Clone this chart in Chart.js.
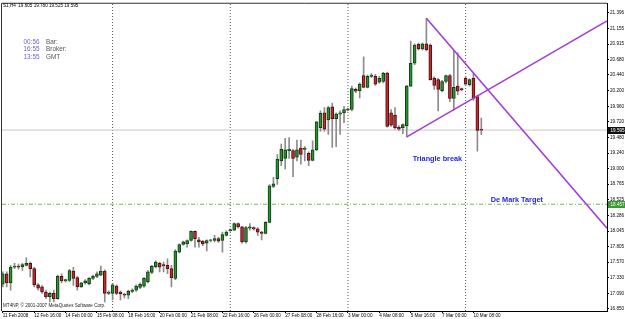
<!DOCTYPE html>
<html>
<head>
<meta charset="utf-8">
<script src="https://cdn.jsdelivr.net/npm/chart.js@4"></script>
<style>
html,body{margin:0;padding:0;background:#fff;}
#wrap{width:625px;height:319px;}
</style>
</head>
<body>
<div id="wrap"><canvas id="c" width="625" height="319"></canvas></div>
<script>
// ---- data (S1, H4) ----
const opens  = [17.23,17.39,17.25,17.49,17.51,17.50,17.52,17.55,17.47,17.22,17.19,17.11,17.04,17.09,17.01,17.35,17.28,17.29,17.43,17.33,17.19,17.25,17.24,17.32,17.35,17.37,17.43,17.09,17.09,17.20,17.11,17.08,17.06,17.12,17.14,17.18,17.20,17.27,17.41,17.50,17.55,17.53,17.52,17.47,17.32,17.72,17.84,17.85,17.90,18.04,17.91,17.89,17.86,17.90,17.90,17.93,17.90,17.98,18.05,18.06,18.16,18.11,17.88,18.09,18.10,18.08,18.03,18.01,18.18,18.73,18.85,19.12,19.16,19.28,19.28,19.18,19.32,19.30,19.24,19.13,19.29,19.63,19.86,19.75,19.95,19.77,19.84,19.86,19.90,19.91,20.22,20.20,20.43,20.25,20.42,20.42,20.33,20.34,20.47,19.86,19.82,19.64,19.63,19.66,20.27,20.62,20.91,20.84,20.92,20.90,20.39,20.37,20.20,20.34,20.43,20.08,20.27,20.23,20.39,20.29,20.39,20.11,19.605];
const highs  = [17.42,17.42,17.52,17.55,17.54,17.55,17.64,17.57,17.49,17.24,17.21,17.14,17.11,17.14,17.37,17.39,17.31,17.46,17.49,17.35,17.26,17.30,17.33,17.37,17.42,17.51,17.45,17.13,17.24,17.22,17.13,17.09,17.14,17.16,17.22,17.25,17.33,17.44,17.52,17.59,17.57,17.57,17.62,17.52,17.76,17.85,17.89,17.91,18.05,18.05,17.95,17.90,17.91,17.92,17.98,17.95,18.03,18.05,18.08,18.17,18.17,18.12,18.12,18.16,18.11,18.10,18.04,18.19,18.76,18.87,19.22,19.38,19.47,19.48,19.30,19.44,19.44,19.34,19.26,19.43,19.73,19.89,19.94,19.96,20.01,19.86,19.89,19.96,19.93,20.27,20.24,20.32,20.72,20.44,20.46,20.45,20.42,20.48,20.48,19.91,19.94,19.66,19.69,20.28,20.96,20.92,20.93,20.93,21.31,20.92,20.41,20.39,20.36,20.44,20.45,20.81,20.78,20.24,20.42,20.38,20.47,20.13,19.780];
const lows   = [17.19,17.19,17.14,17.47,17.46,17.44,17.51,17.34,17.19,17.14,17.09,17.01,16.96,16.96,17.00,17.25,17.26,17.27,17.21,17.14,17.18,17.23,17.22,17.30,17.33,17.36,16.96,17.07,16.99,17.07,16.99,17.02,17.01,17.10,17.12,17.16,17.18,17.25,17.39,17.48,17.42,17.42,17.39,17.19,17.30,17.71,17.83,17.80,17.89,17.80,17.80,17.82,17.74,17.88,17.88,17.87,17.72,17.97,18.04,18.05,18.09,17.86,17.86,18.06,18.06,17.98,17.91,18.00,18.17,18.71,18.76,19.05,19.00,19.16,18.88,19.12,19.07,19.12,19.05,19.12,19.28,19.58,19.58,19.53,19.33,19.34,19.53,19.71,19.89,19.89,20.17,20.09,20.24,20.24,20.40,20.28,20.31,20.32,19.64,19.65,19.61,19.59,19.54,19.49,20.26,20.60,20.82,20.82,20.81,20.36,20.22,19.89,20.18,20.32,20.03,19.90,20.14,20.20,20.28,20.27,20.05,19.27,19.525];
const closes = [17.39,17.25,17.49,17.51,17.49,17.53,17.55,17.47,17.22,17.17,17.11,17.04,17.09,17.01,17.35,17.28,17.30,17.44,17.32,17.19,17.25,17.28,17.32,17.35,17.39,17.43,17.09,17.11,17.22,17.09,17.08,17.06,17.12,17.14,17.20,17.23,17.32,17.42,17.51,17.57,17.49,17.51,17.47,17.33,17.74,17.84,17.88,17.90,18.04,17.93,17.88,17.85,17.90,17.91,17.93,17.89,17.99,18.03,18.07,18.16,18.11,17.88,18.10,18.11,18.08,18.03,18.01,18.18,18.74,18.77,19.15,19.30,19.29,19.30,19.16,19.29,19.22,19.32,19.13,19.29,19.72,19.85,19.61,19.94,19.77,19.84,19.86,19.91,19.92,20.23,20.19,20.30,20.25,20.42,20.44,20.30,20.39,20.47,19.65,19.67,19.63,19.61,19.68,20.27,20.62,20.90,20.84,20.92,20.83,20.37,20.28,20.22,20.34,20.43,20.08,20.25,20.19,20.21,20.30,20.37,20.08,19.59,19.595];

const xTickBars   = [0,8,16,24,32,40,48,56,64,72,80,88,96,104,112,120];
const xTickLabels = ["11 Feb 2008","12 Feb 16:00","14 Feb 00:00","15 Feb 08:00","18 Feb 16:00","20 Feb 00:00","21 Feb 08:00","22 Feb 16:00","26 Feb 00:00","27 Feb 08:00","28 Feb 16:00","3 Mar 00:00","4 Mar 08:00","5 Mar 16:00","7 Mar 00:00","10 Mar 08:00"];
const yTickLabels = ["21.396","21.155","20.915","20.680","20.440","20.200","19.960","19.720","19.480","19.240","19.000","18.765","18.525","18.286","18.045","17.805","17.570","17.330","17.090","16.850"];
const yTickValues = yTickLabels.map(Number);

const weekSeparators = [28,58,88,118];
const bidPrice = 19.595;
const deMarkTarget = 18.457;
// trend lines: [bar, price] start, [bar, price] end (end at right edge)
const lowerLine = [[103,19.49],[154.05,21.27]];
const upperLine = [[108,21.31],[154.05,18.09]];
const annotations = [
  {text:"Triangle break", bar:104.5, price:19.153},
  {text:"De Mark Target", bar:124.4, price:18.528}
];
const headerText = "S1,H4  19.605 19.780 19.525 19.595";
const clockTimes = ["00:56","16:55","13:55"];
const clockNames = ["Bar:","Broker:","GMT"];
const copyrightText = "MT4NP, \u00a9 2001-2007 MetaQuotes Software Corp.";

const X_MIN = -0.2, X_MAX = 154.05;
const Y_MIN = 16.819, Y_MAX = 21.533;

// ---- build datasets ----
const n = opens.length;
const wickData = [], bodyData = [], bodyFill = [], bodyBorder = [];
for (let i = 0; i < n; i++) {
  wickData.push({x:i, y:[lows[i], highs[i]]});
  bodyData.push({x:i, y:[opens[i], closes[i]]});
  const up = closes[i] >= opens[i];
  bodyFill.push(up ? '#2a922f' : '#c42a2e');
  bodyBorder.push(up ? '#0f3d12' : '#4d0f10');
}

const datasets = [];
weekSeparators.forEach(b => {
  datasets.push({type:'line', data:[{x:b,y:Y_MIN},{x:b,y:Y_MAX}], borderColor:'#555', borderWidth:1, borderDash:[1,2], pointRadius:0, order:20});
});
datasets.push({type:'line', data:[{x:X_MIN,y:bidPrice},{x:X_MAX,y:bidPrice}], borderColor:'#c8c8c8', borderWidth:1, pointRadius:0, order:19});
datasets.push({type:'line', data:[{x:X_MIN,y:deMarkTarget},{x:X_MAX,y:deMarkTarget}], borderColor:'#6cbf4a', borderWidth:1, borderDash:[4,2,1,2], pointRadius:0, order:18});
datasets.push({type:'bar', data:wickData, backgroundColor:'#8c8c8c', barThickness:1, grouped:false, order:6});
datasets.push({type:'bar', data:bodyData, backgroundColor:bodyFill, borderColor:bodyBorder, borderWidth:1, borderSkipped:false, barThickness:3, grouped:false, order:5});
[lowerLine, upperLine].forEach(l => {
  datasets.push({type:'line', data:l.map(p=>({x:p[0],y:p[1]})), borderColor:'#a23fd6', borderWidth:1.6, pointRadius:0, order:1});
});

const FONT = "'Liberation Sans', Arial, sans-serif";

const overlay = {
  id:'overlay',
  afterDraw(chart) {
    const {ctx, chartArea:a, scales:{x, y}} = chart;
    ctx.save();
    // frame left/top
    ctx.strokeStyle = '#333'; ctx.lineWidth = 1;
    ctx.beginPath();
    ctx.moveTo(a.left - 0.5, a.bottom); ctx.lineTo(a.left - 0.5, a.top - 0.5); ctx.lineTo(a.right, a.top - 0.5);
    ctx.stroke();
    // header
    ctx.fillStyle = '#000'; ctx.textBaseline = 'middle'; ctx.textAlign = 'left';
    ctx.font = "4.6px " + FONT;
    ctx.fillText(headerText, 3, 5.5);
    // clocks
    ctx.font = "6.4px " + FONT;
    for (let i = 0; i < clockTimes.length; i++) {
      const yy = 42 + i * 7.7;
      ctx.fillStyle = '#6c62e0'; ctx.fillText(clockTimes[i], 23.5, yy);
      ctx.fillStyle = '#555'; ctx.fillText(clockNames[i], 46, yy);
    }
    // copyright
    ctx.fillStyle = '#222'; ctx.font = "4.6px " + FONT;
    ctx.fillText(copyrightText, 3, 305.5);
    // annotations
    ctx.font = "bold 7.3px " + FONT; ctx.fillStyle = '#2424e6';
    annotations.forEach(an => ctx.fillText(an.text, x.getPixelForValue(an.bar), y.getPixelForValue(an.price)));
    // price boxes on axis
    const box = (val, bg) => {
      const py = Math.round(y.getPixelForValue(val));
      ctx.fillStyle = bg; ctx.fillRect(a.right + 1, py - 3, 17, 7);
      ctx.fillStyle = '#fff'; ctx.font = "4.6px " + FONT;
      ctx.fillText(val.toFixed(3), a.right + 3.5, py + 0.5);
    };
    box(bidPrice, '#111');
    box(deMarkTarget, '#3a9a34');
    ctx.restore();
  }
};

new Chart(document.getElementById('c'), {
  type:'bar',
  data:{datasets},
  options:{
    responsive:false, animation:false, devicePixelRatio:1,
    layout:{padding:{left:2, top:2, right:0, bottom:0}},
    plugins:{legend:{display:false}, tooltip:{enabled:false}},
    scales:{
      x:{
        type:'linear', position:'bottom', min:X_MIN, max:X_MAX, offset:false,
        afterBuildTicks:s => { s.ticks = xTickBars.map(v => ({value:v})); },
        afterFit:s => { s.height = 8; },
        ticks:{autoSkip:false, maxRotation:0, minRotation:0, align:'start', padding:0, color:'#000',
          font:{size:4.6, family:FONT}, callback:(v,i) => xTickLabels[i]},
        grid:{offset:false, drawOnChartArea:false, drawTicks:true, tickLength:2, color:'#000'},
        border:{display:true, color:'#000', width:1}
      },
      y:{
        type:'linear', position:'right', min:Y_MIN, max:Y_MAX, beginAtZero:false,
        afterBuildTicks:s => { s.ticks = yTickValues.map(v => ({value:v})); },
        afterFit:s => { s.width = 18; },
        ticks:{autoSkip:false, padding:1, color:'#000', font:{size:4.6, family:FONT}, callback:(v,i) => yTickLabels[i]},
        grid:{drawOnChartArea:false, drawTicks:true, tickLength:2, color:'#000'},
        border:{display:true, color:'#000', width:1}
      }
    }
  },
  plugins:[overlay]
});
</script>
</body>
</html>
